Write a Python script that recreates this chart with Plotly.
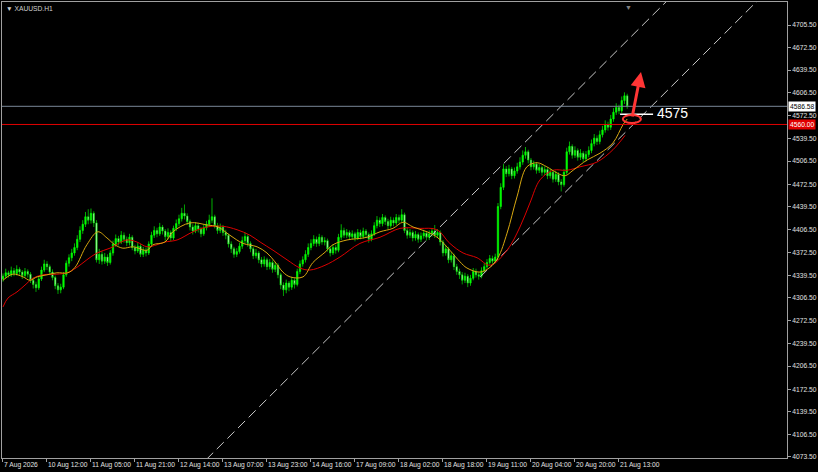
import plotly.graph_objects as go

# ---------------- data ----------------
opens = [4334,4338,4343,4340,4346,4342,4348,4344,4339,4345,
         4341,4332,4326,4321,4334,4347,4356,4352,4344,4336,
         4324,4318,4322,4340,4357,4365,4372,4380,4392,4405,
         4414,4425,4420,4430,4416,4362,4370,4360,4366,4358,
         4372,4385,4393,4388,4398,4392,4387,4395,4380,4375,
         4382,4370,4376,4372,4385,4398,4405,4400,4410,4404,
         4396,4402,4394,4408,4415,4422,4430,4426,4418,4410,
         4404,4412,4407,4400,4409,4414,4420,4425,4412,4405,
         4410,4402,4398,4385,4378,4370,4374,4382,4390,4396,
         4386,4378,4368,4372,4362,4356,4362,4352,4358,4348,
         4354,4340,4325,4318,4328,4322,4332,4326,4345,4356,
         4362,4370,4380,4386,4392,4386,4395,4388,4390,4378,
         4372,4380,4376,4395,4405,4398,4402,4396,4400,4394,
         4402,4396,4404,4399,4392,4400,4412,4420,4415,4424,
         4418,4412,4420,4416,4424,4420,4428,4405,4398,4402,
         4394,4399,4392,4397,4401,4395,4400,4404,4398,4402,
         4388,4372,4378,4362,4368,4352,4345,4340,4332,4338,
         4328,4335,4345,4340,4338,4346,4352,4358,4364,4360,
         4366,4440,4468,4495,4488,4495,4485,4492,4498,4505,
         4515,4520,4508,4498,4502,4493,4497,4490,4494,4485,
         4490,4480,4487,4476,4472,4490,4520,4528,4515,4522,
         4512,4518,4510,4516,4522,4532,4540,4535,4545,4552,
         4560,4556,4568,4578,4585,4580,4595,4602]
closes = [4338,4343,4340,4346,4342,4348,4344,4339,4345,4341,
          4332,4326,4321,4334,4347,4356,4352,4344,4336,4324,
          4318,4322,4340,4357,4365,4372,4380,4392,4405,4414,
          4425,4420,4430,4416,4362,4370,4360,4366,4358,4372,
          4385,4393,4388,4398,4392,4387,4395,4380,4375,4382,
          4370,4376,4372,4385,4398,4405,4400,4410,4404,4396,
          4402,4394,4408,4415,4422,4430,4426,4418,4410,4404,
          4412,4407,4400,4409,4414,4420,4425,4412,4405,4410,
          4402,4398,4385,4378,4370,4374,4382,4390,4396,4386,
          4378,4368,4372,4362,4356,4362,4352,4358,4348,4354,
          4340,4325,4318,4328,4322,4332,4326,4345,4356,4362,
          4370,4380,4386,4392,4386,4395,4388,4390,4378,4372,
          4380,4376,4395,4405,4398,4402,4396,4400,4394,4402,
          4396,4404,4399,4392,4400,4412,4420,4415,4424,4418,
          4412,4420,4416,4424,4420,4428,4405,4398,4402,4394,
          4399,4392,4397,4401,4395,4400,4404,4398,4402,4388,
          4372,4378,4362,4368,4352,4345,4340,4332,4338,4328,
          4335,4345,4340,4338,4346,4352,4358,4364,4360,4366,
          4440,4468,4495,4488,4495,4485,4492,4498,4505,4515,
          4520,4508,4498,4502,4493,4497,4490,4494,4485,4490,
          4480,4487,4476,4472,4490,4520,4528,4515,4522,4512,
          4518,4510,4516,4522,4532,4540,4535,4545,4552,4560,
          4556,4568,4578,4585,4580,4595,4602,4586.58]
highs = [4342,4349,4346,4352,4350,4354,4351,4347,4350,4348,
         4344,4336,4330,4338,4352,4362,4360,4355,4348,4339,
         4328,4327,4344,4361,4370,4378,4386,4398,4411,4420,
         4432,4436,4437,4433,4420,4378,4374,4372,4370,4376,
         4390,4399,4397,4404,4402,4396,4400,4398,4384,4387,
         4385,4381,4380,4389,4403,4411,4409,4416,4413,4407,
         4408,4405,4412,4421,4428,4438,4443,4430,4421,4414,
         4417,4416,4410,4414,4419,4428,4452,4428,4416,4415,
         4413,4406,4400,4389,4381,4379,4387,4396,4402,4399,
         4389,4381,4378,4375,4366,4367,4365,4363,4361,4359,
         4357,4343,4329,4333,4331,4337,4335,4349,4361,4367,
         4376,4386,4392,4398,4396,4400,4398,4395,4393,4382,
         4385,4384,4400,4414,4409,4407,4405,4405,4403,4407,
         4406,4409,4407,4402,4405,4417,4426,4424,4429,4427,
         4422,4425,4424,4429,4428,4436,4431,4409,4407,4405,
         4404,4402,4402,4406,4404,4405,4408,4413,4407,4405,
         4391,4383,4381,4373,4371,4356,4349,4344,4343,4341,
         4340,4350,4349,4344,4351,4357,4363,4369,4368,4371,
         4445,4474,4502,4499,4501,4498,4497,4504,4512,4522,
         4527,4523,4511,4507,4505,4502,4500,4499,4497,4495,
         4493,4492,4490,4480,4495,4526,4535,4531,4528,4525,
         4524,4521,4521,4528,4538,4546,4544,4551,4558,4566,
         4564,4574,4584,4591,4589,4601,4607,4605]
lows = [4330,4335,4336,4337,4338,4339,4340,4334,4336,4336,
        4328,4320,4315,4318,4331,4344,4347,4340,4332,4319,
        4312,4313,4319,4337,4352,4360,4368,4376,4388,4400,
        4410,4414,4415,4410,4358,4356,4355,4356,4353,4355,
        4368,4381,4383,4385,4387,4382,4383,4376,4370,4372,
        4366,4366,4367,4369,4382,4394,4395,4397,4399,4390,
        4392,4389,4391,4404,4411,4418,4421,4413,4405,4399,
        4401,4402,4395,4397,4405,4410,4416,4408,4400,4401,
        4397,4392,4380,4372,4365,4366,4371,4378,4386,4381,
        4373,4363,4364,4357,4351,4352,4347,4348,4343,4344,
        4335,4319,4309,4313,4316,4318,4320,4323,4341,4352,
        4358,4366,4376,4382,4381,4382,4384,4383,4374,4367,
        4369,4371,4373,4391,4394,4394,4391,4392,4389,4391,
        4392,4393,4394,4387,4389,4397,4408,4410,4411,4413,
        4407,4409,4411,4413,4415,4417,4401,4393,4394,4389,
        4390,4387,4388,4393,4390,4391,4396,4394,4394,4383,
        4367,4368,4357,4358,4347,4340,4334,4326,4328,4322,
        4324,4332,4336,4333,4335,4343,4349,4355,4356,4357,
        4363,4436,4464,4483,4484,4480,4481,4488,4494,4501,
        4510,4503,4493,4494,4488,4489,4485,4486,4480,4481,
        4475,4476,4471,4462,4469,4487,4516,4510,4511,4507,
        4508,4505,4506,4512,4518,4528,4530,4531,4541,4548,
        4551,4552,4564,4574,4575,4577,4590,4583]
bars = list(range(len(closes)))

# fast moving average (yellow), read at sample bars
fast_ma_bars = [0,3.6,7.3,9.8,12.4,16,19.6,23.6,26.2,30.5,34.5,37.8,40.7,43.6,47.3,52.4,54.5,58.9,
                61.8,68,74.2,78.2,82.5,87.3,92.4,96,98.9,101.8,104.4,109.1,112.7,117.1,120,125.1,
                132.4,137.1,141.8,145.5,149.1,154.2,158.2,162.5,166.2,168.7,173.5,177.1,180,183.3,
                186.9,190.5,194.2,197.8,201.5,204.4,207.3,212.4,217.1,221.8,225.5,227]
fast_ma_vals = [4332,4341,4337,4332,4337,4340,4343,4343,4351,4384,4403,4394,4384,4379,4381,4376,4384,4388,
                4403,4416,4413,4410,4398,4386,4381,4372,4359,4344,4337,4337,4358,4373,4384,4391,
                4395,4403,4408,4417,4410,4403,4394,4376,4359,4350,4344,4351,4365,4401,
                4454,4498,4504,4498,4489,4485,4493,4508,4518,4533,4560,4568]
# slow moving average (red)
slow_ma_bars = [0,1.8,5.1,8,10.9,14.5,19.6,23.3,26.9,30.5,34.2,38.9,45.1,48.7,52.4,56,58.9,63.3,69.1,
                74.2,80,85.1,89.8,93.5,98.2,103.3,108,111.6,117.1,122.5,129.8,137.1,144.4,151.6,
                157.8,162.5,167.3,172.4,177.1,183.3,188,191.6,195.3,200,205.1,209.8,216,221.8,226.2]
slow_ma_vals = [4293,4306,4315,4325,4335,4340,4341,4343,4351,4362,4372,4379,4391,4388,4381,4384,4388,4391,4403,
                4410,4411,4406,4398,4388,4376,4362,4350,4347,4354,4366,4386,4395,4408,4408,
                4406,4386,4372,4365,4354,4376,4410,4445,4479,4493,4493,4498,4505,4523,4544]

# channel trend lines (bar, price anchors)
channel_upper_bars = [70, 245]
channel_upper_prices = [4054.0, 4755.0]
channel_lower_bars = [173.5, 280]
channel_lower_prices = [4336.8, 4763.6]

bid_price = 4586.58
level_price = 4560.00
target_price = 4575

xtick_bars = [0,16,32,48,64,80,96,112,128,144,160,176,192,208,224]
xtick_labels = ["7 Aug 2026","10 Aug 12:00","11 Aug 05:00","11 Aug 21:00","12 Aug 14:00",
                "13 Aug 07:00","13 Aug 23:00","14 Aug 16:00","17 Aug 09:00","18 Aug 02:00",
                "18 Aug 18:00","19 Aug 11:00","20 Aug 04:00","20 Aug 20:00","21 Aug 13:00"]
ytick_vals = [4073.5,4106.5,4139.5,4172.5,4206.5,4239.5,4272.5,4306.5,4339.5,4372.5,
              4406.5,4439.5,4472.5,4506.5,4539.5,4572.5,4606.5,4639.5,4672.5,4705.5]

# ---------------- figure ----------------
FONT = "Liberation Sans"
AX = "#a0a0a0"
fig = go.Figure()

fig.add_trace(go.Scatter(x=channel_upper_bars, y=channel_upper_prices, mode="lines",
                         line=dict(color="#c8c8c8", width=1, dash="10px,5px"), hoverinfo="skip"))
fig.add_trace(go.Scatter(x=channel_lower_bars, y=channel_lower_prices, mode="lines",
                         line=dict(color="#c8c8c8", width=1, dash="10px,5px"), hoverinfo="skip"))

fig.add_trace(go.Candlestick(
    x=bars, open=opens, high=highs, low=lows, close=closes,
    increasing=dict(line=dict(color="#00ff00", width=0.7), fillcolor="#00ff00"),
    decreasing=dict(line=dict(color="#00e000", width=0.7), fillcolor="#e8ffe8"),
    whiskerwidth=0, hoverinfo="skip"))

fig.add_trace(go.Scatter(x=slow_ma_bars, y=slow_ma_vals, mode="lines",
                         line=dict(color="#dd0000", width=1, shape="spline"), hoverinfo="skip"))
fig.add_trace(go.Scatter(x=fast_ma_bars, y=fast_ma_vals, mode="lines",
                         line=dict(color="#d8a810", width=1, shape="spline"), hoverinfo="skip"))

# horizontal price lines
fig.add_shape(type="line", xref="paper", x0=0, x1=1, yref="y", y0=bid_price, y1=bid_price,
              line=dict(color="#7a8898", width=1))
fig.add_shape(type="line", xref="paper", x0=0, x1=1, yref="y", y0=level_price, y1=level_price,
              line=dict(color="#e00000", width=1))

# 4575 markup
fig.add_shape(type="line", x0=224.4, x1=236.4, y0=target_price, y1=target_price,
              line=dict(color="#ffffff", width=1.5))
fig.add_shape(type="circle", x0=225.4, x1=232.0, y0=4562, y1=4574,
              line=dict(color="#ff3535", width=2))
fig.add_annotation(x=232, y=4636.8, ax=-9, ay=46, text="", showarrow=True,
                   arrowcolor="#ff3535", arrowwidth=3, arrowhead=2, arrowsize=1)
fig.add_annotation(x=237, y=target_price, text="4575", showarrow=False, xanchor="left",
                   yanchor="middle", yshift=1, font=dict(family=FONT, size=14, color="#ffffff"))

# price labels on the axis
fig.add_annotation(xref="paper", x=1, xanchor="left", xshift=1, y=bid_price, yanchor="middle",
                   text=f"{bid_price:.2f}", showarrow=False, bgcolor="#ffffff", borderpad=1,
                   font=dict(family=FONT, size=6.7, color="#000000"))
fig.add_annotation(xref="paper", x=1, xanchor="left", xshift=1, y=level_price, yanchor="middle",
                   text=f"{level_price:.2f}", showarrow=False, bgcolor="#e00000", borderpad=1,
                   font=dict(family=FONT, size=6.7, color="#ffffff"))

# title and shift marker
fig.add_annotation(xref="paper", yref="paper", x=0, y=1, xanchor="left", yanchor="top",
                   xshift=2, yshift=-1, text="▼ XAUUSD.H1", showarrow=False,
                   font=dict(family=FONT, size=6.7, color="#d0d0d0"))
fig.add_annotation(xref="x", yref="paper", x=227.3, y=1, yanchor="top", text="▼",
                   showarrow=False, font=dict(family=FONT, size=7, color="#808080"))

fig.update_layout(
    width=818, height=472, template="none",
    margin=dict(l=2, r=31, t=2, b=14, pad=0),
    paper_bgcolor="#000000", plot_bgcolor="#000000",
    showlegend=False, hovermode=False,
    xaxis=dict(range=[-0.36, 285.1], tickmode="array", tickvals=xtick_bars, ticktext=xtick_labels,
               tickangle=0, ticks="outside", ticklen=3, tickcolor=AX, ticklabelposition="outside right",
               showgrid=False, zeroline=False, showline=True, linecolor=AX, linewidth=1, mirror=True,
               rangeslider=dict(visible=False), automargin=False,
               tickfont=dict(family=FONT, size=6.7, color="#e0e0e0")),
    yaxis=dict(side="right", range=[4072.0, 4739.2], tickmode="array", tickvals=ytick_vals,
               ticktext=[f"{v:.2f}" for v in ytick_vals], ticks="outside", ticklen=3, tickcolor=AX,
               showgrid=False, zeroline=False, showline=True, linecolor=AX, linewidth=1, mirror=True,
               automargin=False, tickfont=dict(family=FONT, size=6.7, color="#e0e0e0")),
)

fig.write_html("out.html", config={"displayModeBar": False},
               post_script="document.body.style.margin='0';document.body.style.padding='0';"
                           "document.body.style.background='#000';")
